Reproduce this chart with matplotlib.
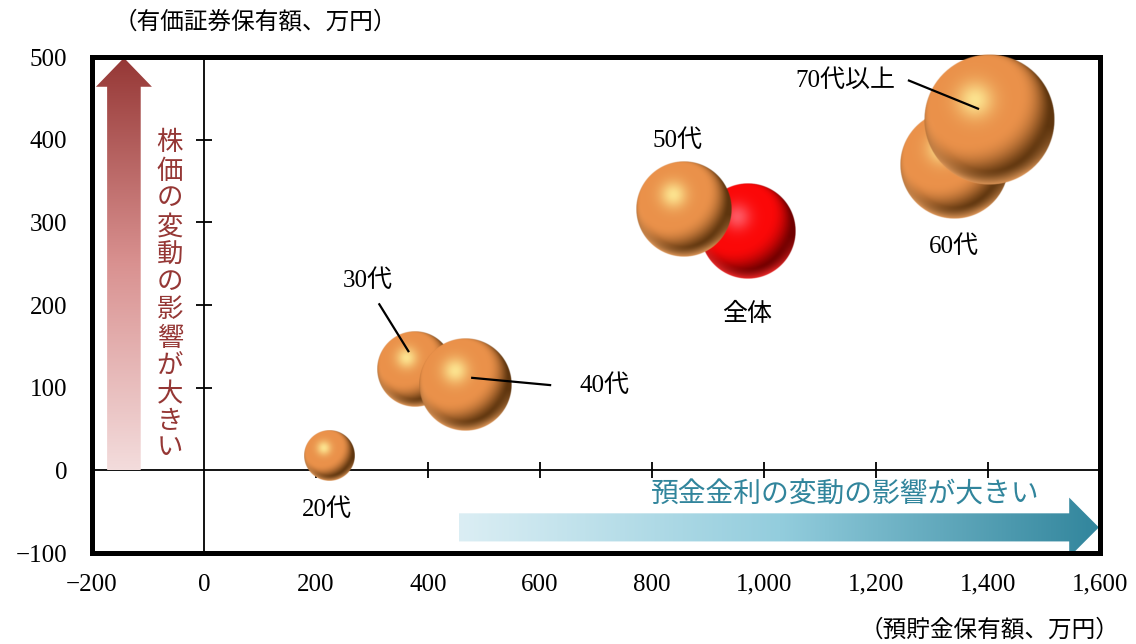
import numpy as np
import matplotlib.pyplot as plt
from matplotlib.patches import Polygon
from matplotlib.colors import LinearSegmentedColormap, to_rgb

plt.rcParams['font.family'] = ['Liberation Serif', 'Noto Sans CJK JP']

# 年代別の預貯金・有価証券保有額（万円）
labels = ['20代', '30代', '40代', '全体', '50代', '60代', '70代以上']
deposits = [223, 377, 466, 971, 857, 1339, 1402]
securities = [18, 122, 103, 290, 316, 370, 424]
bubble_size = [6.3, 14.4, 21.2, 23.0, 23.0, 29.2, 42.3]

x_ticks = [-200, 0, 200, 400, 600, 800, 1000, 1200, 1400, 1600]
y_ticks = [-100, 0, 100, 200, 300, 400, 500]

ORANGE = dict(base='#ea914a', light='#fff09a', dark='#5e350e', rim='#f5a866')
RED = dict(base='#fb0808', light='#ff6470', dark='#700000', rim='#ff3030')


def sphere_rgba(base, light, dark, rim, n=300):
    t = np.linspace(-1, 1, n)
    u, v = np.meshgrid(t, t)
    r = np.sqrt(u ** 2 + v ** 2)
    z = np.sqrt(np.clip(1 - r ** 2, 0, 1))
    L = np.array([-0.32, 0.42, 0.85])
    L = L / np.linalg.norm(L)
    d = np.clip(u * L[0] + v * L[1] + z * L[2], 0, 1)
    s = np.clip((d - 0.03) / 0.66, 0, 1)
    s = s * s * (3 - 2 * s)
    base, light, dark, rim = (np.array(to_rgb(c)) for c in (base, light, dark, rim))
    rgb = dark + (base - dark) * s[..., None]
    spec = np.exp(-((u + 0.22) ** 2 + (v - 0.3) ** 2) / 0.075)
    rgb = rgb + (light - rgb) * (0.85 * spec)[..., None]
    rimw = np.clip((r - 0.78) / 0.22, 0, 1) ** 1.3 * np.clip(-v * 1.3 - u * 0.15, 0, 1)
    rgb = rgb + (rim - rgb) * (0.85 * rimw)[..., None]
    alpha = np.clip((1 - r) * n / 3, 0, 1)
    return np.dstack([np.clip(rgb, 0, 1), alpha])


fig = plt.figure(figsize=(11.36, 6.44), dpi=100)
ax = fig.add_axes([92 / 1136, 91 / 644, 1008 / 1136, 496 / 644])
ax.set_xlim(-200, 1600)
ax.set_ylim(-100, 500)

# 十字の軸と目盛り
ax.axhline(0, color='black', lw=1.3, zorder=1)
ax.axvline(0, color='black', lw=1.3, zorder=1)
inner_x = [t for t in x_ticks if 0 < t < 1600]
inner_y = [t for t in y_ticks if 0 < t < 500]
ax.plot(inner_x, [0] * len(inner_x), ls='none', marker='|', ms=12, mew=1.3,
        color='black', zorder=1)
ax.plot([0] * len(inner_y), inner_y, ls='none', marker='_', ms=12, mew=1.3,
        color='black', zorder=1)

ax.set_xticks(x_ticks)
ax.set_xticklabels([f'{t:,}' if t >= 0 else f'−{-t}' for t in x_ticks])
ax.set_yticks(y_ticks)
ax.set_yticklabels([str(t) if t >= 0 else f'−{-t}' for t in y_ticks])
ax.tick_params(length=0, labelsize=18)
ax.tick_params(axis='x', pad=15)
ax.tick_params(axis='y', pad=18)
for sp in ax.spines.values():
    sp.set_linewidth(3.6)
    sp.set_zorder(2.5)

# 縦方向のグラデーション矢印（株価）
red_cmap = LinearSegmentedColormap.from_list('r', ['#f3dcdc', '#d99190', '#953735'])
red_arrow = Polygon([(-173, 0), (-113, 0), (-113, 464), (-93, 464), (-143, 499),
                     (-193, 464), (-173, 464)], closed=True, transform=ax.transData)
grad = np.linspace(0, 1, 256)[:, None]
im = ax.imshow(grad, cmap=red_cmap, origin='lower', extent=[-195, -91, 0, 500],
               aspect='auto', zorder=1)
im.set_clip_path(red_arrow)
ax.text(-61, 212, '\n'.join('株価の変動の影響が大きい'), color='#953735', fontsize=19,
        ha='center', va='center', linespacing=1.24, zorder=2)

# 横方向のグラデーション矢印（預金金利）
blue_cmap = LinearSegmentedColormap.from_list('b', ['#dbeef4', '#93cddd', '#31859c'])
blue_arrow = Polygon([(455, -86), (1545, -86), (1545, -105), (1598, -69), (1545, -33),
                      (1545, -52), (455, -52)], closed=True, transform=ax.transData)
im = ax.imshow(grad.T, cmap=blue_cmap, origin='lower', extent=[455, 1600, -106, -32],
               aspect='auto', zorder=1)
im.set_clip_path(blue_arrow)
ax.text(1145, -31, '預金金利の変動の影響が大きい', color='#31859c', fontsize=20,
        ha='center', va='center', zorder=2)

# 球体バブル
fig.canvas.draw()
bb = ax.get_window_extent()
sx = bb.width / 1800
sy = bb.height / 600
for lab, x, y, b in zip(labels, deposits, securities, bubble_size):
    style = RED if lab == '全体' else ORANGE
    r = 10 * np.sqrt(b)
    ax.imshow(sphere_rgba(**style), origin='lower', aspect='auto', zorder=3,
              extent=[x - r / sx, x + r / sx, y - r / sy, y + r / sy],
              clip_on=False, interpolation='bilinear')

# ラベルと引き出し線
text_pos = {'20代': (220, -48), '30代': (293, 230), '40代': (716, 102),
            '全体': (970, 189), '50代': (845, 399), '60代': (1339, 271),
            '70代以上': (1146, 472)}
for lab, (tx, ty) in text_pos.items():
    ax.text(tx, ty, lab, fontsize=18, ha='center', va='center', zorder=5)
leaders = {'30代': ([312, 366], [202, 143]), '40代': ([620, 477], [103, 112]),
           '70代以上': ([1257, 1384], [472, 437])}
for xs, ys in leaders.values():
    ax.plot(xs, ys, color='black', lw=1.6, zorder=4, solid_capstyle='butt')

fig.text(255 / 1136, 1 - 22 / 644, '（有価証券保有額、万円）', fontsize=17,
         ha='center', va='center')
fig.text(990 / 1136, 1 - 630 / 644, '（預貯金保有額、万円）', fontsize=17,
         ha='center', va='center')

fig.savefig('out.png', dpi=100)
